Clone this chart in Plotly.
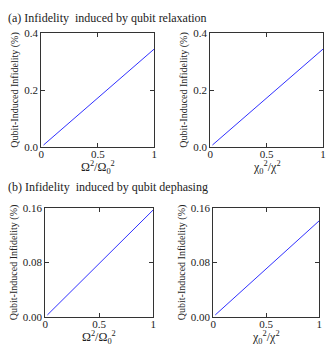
import plotly.graph_objects as go

# wartosci
x_vals = [0.02, 1.0]
relax_omega = [0.007, 0.344]
relax_chi = [0.007, 0.344]
deph_omega = [0.003, 0.157]
deph_chi = [0.003, 0.141]

x_tick_vals = [0, 0.5, 1]
x_tick_text = ['0', '0.5', '1']
y_top_ticks = [0.0, 0.2, 0.4]
y_top_text = ['0.0', '0.2', '0.4']
y_bot_ticks = [0.0, 0.08, 0.16]
y_bot_text = ['0.00', '0.08', '0.16']

label_omega = 'Ω<sup>2</sup>/Ω<sub>0</sub><sup>2</sup>'
label_chi = 'χ<sub>0</sub><sup>2</sup>/χ<sup>2</sup>'
y_label = 'Qubit-Induced Infidelity (%)'

W, H = 332, 351
FONT = 'Liberation Serif, Times New Roman, serif'

# polozenie ramek w pikselach: (lewo, prawo, gora, dol)
boxes = [(39, 154, 28, 146), (211, 326, 28, 146),
         (43, 153, 209, 322), (214, 322, 209, 322)]
series = [relax_omega, relax_chi, deph_omega, deph_chi]
xlabels = [label_omega, label_chi, label_omega, label_chi]

fig = go.Figure()
layout = {}
for i, (box, ys, xl) in enumerate(zip(boxes, series, xlabels)):
    n = '' if i == 0 else str(i + 1)
    l, r, t, b = box
    fig.add_trace(go.Scatter(x=x_vals, y=ys, mode='lines',
                             line=dict(color='#3030ff', width=1),
                             xaxis='x' + n, yaxis='y' + n, showlegend=False))
    top = i < 2
    axis_common = dict(showgrid=False, zeroline=False, mirror='ticks',
                       showline=True, linecolor='#333', linewidth=1,
                       ticks='inside', ticklen=4, tickcolor='#333',
                       tickfont=dict(family=FONT, size=11, color='#222'))
    layout['xaxis' + n] = dict(axis_common, domain=[l / W, r / W], range=[0, 1],
                               tickvals=x_tick_vals, ticktext=x_tick_text,
                               anchor='y' + n, ticklabelstandoff=-3)
    layout['yaxis' + n] = dict(axis_common, domain=[1 - b / H, 1 - t / H],
                               range=[0, 0.4] if top else [0, 0.16],
                               tickvals=y_top_ticks if top else y_bot_ticks,
                               ticktext=y_top_text if top else y_bot_text,
                               anchor='x' + n, ticklabelstandoff=0,
                               title=dict(text=y_label, standoff=3,
                                          font=dict(family=FONT, size=10, color='#222')))
    # opis osi x jako adnotacja, tuz pod etykietami osi
    fig.add_annotation(text=xl, x=(l + r) / 2 / W, y=1 - (b + 11) / H,
                       xref='paper', yref='paper', xanchor='center',
                       yanchor='top', showarrow=False, borderpad=0,
                       font=dict(family=FONT, size=12, color='#222'))

fig.update_layout(**layout)
fig.update_layout(width=W, height=H, margin=dict(l=0, r=0, t=0, b=0),
                  plot_bgcolor='white', paper_bgcolor='white',
                  font=dict(family=FONT, color='#222'))

fig.add_annotation(text='(a) Infidelity  induced by qubit relaxation',
                   x=3 / W, y=1 - 12 / H, xref='paper', yref='paper',
                   xanchor='left', yanchor='middle', showarrow=False,
                   font=dict(family=FONT, size=12, color='#222'))
fig.add_annotation(text='(b) Infidelity  induced by qubit dephasing',
                   x=3 / W, y=1 - 187 / H, xref='paper', yref='paper',
                   xanchor='left', yanchor='middle', showarrow=False,
                   font=dict(family=FONT, size=12, color='#222'))

# bez marginesu strony, zeby wykres zaczynal sie w rogu okna
fig.write_html('out.html', config={'displayModeBar': False},
               post_script="document.body.style.margin='0';")
